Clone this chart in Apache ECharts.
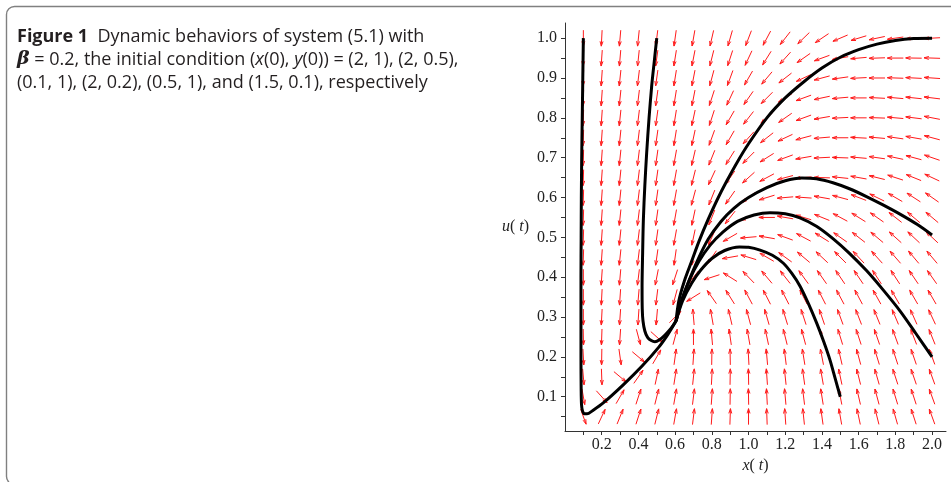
<!DOCTYPE html>
<html>
<head>
<meta charset="utf-8">
<script src="https://cdn.jsdelivr.net/npm/echarts@6/dist/echarts.min.js"></script>
<style>
  html, body { margin: 0; padding: 0; background: #fff; }
  #main { width: 951px; height: 482px; }
</style>
</head>
<body>
<div id="main"></div>
<script>
// direction field grid
var arrowX = [0.1, 0.2, 0.3, 0.4, 0.5, 0.6, 0.7, 0.8, 0.9, 1.0, 1.1, 1.2, 1.3, 1.4, 1.5, 1.6, 1.7, 1.8, 1.9, 2.0];
var arrowY = [1.0, 0.95, 0.9, 0.85, 0.8, 0.75, 0.7, 0.65, 0.6, 0.55, 0.5, 0.45, 0.4, 0.35, 0.3, 0.25, 0.2, 0.15, 0.1, 0.05];
// arrow heading on screen, degrees (0 = right, 90 = up), one row per arrowY
var fieldAngles = [
    [270, 267, 265, 264, 263, 262, 260, 257, 254, 249, 242, 232, 224, 214, 203, 197, 192, 188, 185, 183],
    [268, 266, 265, 264, 262, 261, 259, 256, 252, 245, 238, 228, 215, 200, 190, 185, 182, 180, 179, 178],
    [268, 266, 264, 263, 262, 261, 259, 255, 250, 240, 230, 218, 205, 195, 188, 183, 180, 178, 177, 176],
    [268, 266, 264, 263, 262, 261, 259, 252, 245, 235, 225, 212, 200, 192, 185, 180, 177, 175, 174, 173],
    [268, 266, 264, 263, 262, 261, 258, 252, 240, 232, 222, 215, 200, 190, 183, 180, 178, 175, 173, 169],
    [268, 266, 264, 263, 262, 261, 258, 250, 240, 228, 218, 205, 195, 185, 180, 177, 175, 172, 170, 165],
    [268, 266, 264, 263, 262, 260, 257, 248, 238, 225, 212, 200, 190, 183, 178, 175, 172, 168, 165, 161],
    [268, 266, 264, 263, 262, 260, 256, 245, 235, 222, 208, 195, 185, 178, 174, 170, 166, 162, 158, 155],
    [268, 266, 264, 263, 262, 260, 255, 248, 235, 218, 197, 185, 176, 170, 165, 159, 154, 150, 147, 145],
    [268, 266, 264, 263, 262, 260, 258, 248, 232, 200, 180, 170, 163, 158, 152, 148, 145, 142, 140, 140],
    [268, 266, 264, 263, 262, 260, 258, 245, 210, 185, 170, 160, 152, 148, 145, 142, 140, 138, 137, 137],
    [268, 266, 264, 263, 262, 262, 258, 235, 190, 163, 150, 144, 140, 137, 135, 133, 132, 131, 130, 130],
    [270, 266, 265, 263, 259, 252, 232, 198, 148, 134, 130, 128, 126, 125, 124, 124, 123, 123, 124, 125],
    [270, 267, 266, 265, 263, 255, 212, 125, 122, 118, 117, 117, 117, 117, 118, 118, 119, 120, 120, 120],
    [270, 267, 266, 266, 265, 45, 95, 100, 103, 105, 106, 107, 108, 109, 110, 111, 112, 113, 114, 115],
    [271, 268, 266, 285, 318, 75, 90, 95, 98, 100, 102, 104, 105, 106, 107, 108, 109, 110, 111, 112],
    [273, 269, 278, 320, 60, 82, 86, 89, 91, 93, 95, 97, 99, 101, 103, 105, 107, 108, 109, 110],
    [275, 272, 320, 55, 78, 81, 84, 87, 89, 91, 94, 96, 98, 100, 102, 104, 106, 108, 109, 110],
    [280, 312, 60, 72, 76, 80, 83, 86, 89, 91, 93, 95, 97, 99, 101, 103, 105, 107, 108, 110],
    [290, 65, 68, 72, 76, 80, 83, 86, 88, 90, 92, 94, 96, 98, 100, 102, 104, 106, 108, 110]
];

// solution curves
var trajA = [[0.1, 1.0], [0.097, 0.9], [0.094, 0.8], [0.091, 0.7], [0.089, 0.6], [0.088, 0.5], [0.087, 0.4],
    [0.087, 0.3], [0.087, 0.2], [0.088, 0.12], [0.09, 0.08], [0.095, 0.065], [0.105, 0.057], [0.12, 0.057],
    [0.15, 0.065], [0.21, 0.085], [0.32, 0.131], [0.42, 0.177], [0.51, 0.224], [0.56, 0.256], [0.605, 0.29]];
var trajB = [[0.5, 1.0], [0.486, 0.94], [0.472, 0.878], [0.458, 0.8], [0.445, 0.712], [0.435, 0.63], [0.427, 0.544],
    [0.423, 0.46], [0.42, 0.376], [0.421, 0.32], [0.425, 0.29], [0.435, 0.265], [0.45, 0.249], [0.47, 0.241],
    [0.49, 0.238], [0.515, 0.243], [0.545, 0.255], [0.575, 0.27], [0.605, 0.29]];
var trajC = [[0.605, 0.29], [0.62, 0.34], [0.65, 0.39], [0.69, 0.44], [0.73, 0.49], [0.78, 0.545], [0.83, 0.595],
    [0.88, 0.64], [0.94, 0.69], [1.0, 0.735], [1.1, 0.8], [1.2, 0.85], [1.3, 0.89], [1.4, 0.925], [1.5, 0.952],
    [1.6, 0.971], [1.7, 0.985], [1.8, 0.994], [1.9, 0.999], [2.0, 1.0]];
var trajD = [[0.605, 0.29], [0.63, 0.335], [0.67, 0.385], [0.72, 0.44], [0.78, 0.495], [0.85, 0.54], [0.92, 0.573],
    [1.0, 0.6], [1.1, 0.625], [1.2, 0.642], [1.29, 0.649], [1.37, 0.647], [1.46, 0.637], [1.55, 0.622],
    [1.64, 0.603], [1.73, 0.582], [1.83, 0.557], [1.92, 0.532], [2.0, 0.506]];
var trajE = [[0.605, 0.29], [0.635, 0.34], [0.68, 0.395], [0.73, 0.44], [0.79, 0.48], [0.86, 0.513], [0.94, 0.54],
    [1.03, 0.556], [1.117, 0.562], [1.2, 0.559], [1.28, 0.549], [1.37, 0.528], [1.46, 0.497], [1.55, 0.46],
    [1.644, 0.416], [1.73, 0.37], [1.826, 0.315], [1.91, 0.26], [2.0, 0.2]];
var trajF = [[0.605, 0.29], [0.64, 0.34], [0.69, 0.385], [0.74, 0.418], [0.8, 0.447], [0.87, 0.467], [0.95, 0.476],
    [1.0, 0.475], [1.063, 0.468], [1.13, 0.455], [1.19, 0.435], [1.235, 0.41], [1.28, 0.378], [1.327, 0.333],
    [1.372, 0.284], [1.41, 0.238], [1.444, 0.192], [1.472, 0.146], [1.5, 0.1]];

// ticks and labels
var xTickValues = [0.1, 0.2, 0.3, 0.4, 0.5, 0.6, 0.7, 0.8, 0.9, 1.0, 1.1, 1.2, 1.3, 1.4, 1.5, 1.6, 1.7, 1.8, 1.9, 2.0];
var xTickLabels = [0.2, 0.4, 0.6, 0.8, 1.0, 1.2, 1.4, 1.6, 1.8, 2.0];
var yTickValues = [0.05, 0.1, 0.15, 0.2, 0.25, 0.3, 0.35, 0.4, 0.45, 0.5, 0.55, 0.6, 0.65, 0.7, 0.75, 0.8, 0.85, 0.9, 0.95, 1.0];
var yTickLabels = [0.1, 0.2, 0.3, 0.4, 0.5, 0.6, 0.7, 0.8, 0.9, 1.0];

var fieldData = [];
for (var j = 0; j < arrowY.length; j++) {
    for (var i = 0; i < arrowX.length; i++) {
        fieldData.push([arrowX[i], arrowY[j], fieldAngles[j][i]]);
    }
}

var myChart = echarts.init(document.getElementById('main'));

// one red arrow per grid point
var renderArrow = function (params, api) {
    var c = api.coord([api.value(0), api.value(1)]);
    var a = api.value(2) * Math.PI / 180;
    var half = 8;
    var ux = Math.cos(a), uy = -Math.sin(a);
    var tip = [c[0] + ux * half, c[1] + uy * half];
    var tail = [c[0] - ux * half, c[1] - uy * half];
    var h = 5, s = 0.3;
    var b1 = [tip[0] - h * Math.cos(a - s), tip[1] + h * Math.sin(a - s)];
    var b2 = [tip[0] - h * Math.cos(a + s), tip[1] + h * Math.sin(a + s)];
    var st = { stroke: '#ff1a1a', lineWidth: 1, fill: null };
    return {
        type: 'group',
        children: [
            { type: 'polyline', shape: { points: [tail, tip] }, style: st },
            { type: 'polyline', shape: { points: [b1, tip, b2] }, style: st }
        ]
    };
};

var curve = function (data) {
    return {
        type: 'line',
        data: data,
        showSymbol: false,
        smooth: 0.3,
        lineStyle: { color: '#000', width: 3 },
        z: 5,
        silent: true
    };
};

var serif = 'Liberation Serif';

var option = {
    animation: false,
    backgroundColor: '#fff',
    grid: { left: 565, right: 5, top: 23, bottom: 51 },
    xAxis: {
        type: 'value',
        min: 0,
        max: 2.076,
        name: '{i|x}( {i|t})',
        nameLocation: 'middle',
        nameGap: 23,
        nameTextStyle: {
            fontFamily: serif, fontSize: 16, color: '#222',
            rich: { i: { fontFamily: serif, fontSize: 16, fontStyle: 'italic', color: '#222' } }
        },
        splitLine: { show: false },
        axisLine: { show: true, lineStyle: { color: '#333', width: 1 } },
        axisTick: { show: true, inside: false, length: 4, customValues: xTickValues, lineStyle: { color: '#333' } },
        axisLabel: {
            customValues: xTickLabels,
            margin: 6,
            fontFamily: serif, fontSize: 16, color: '#222',
            formatter: function (v) { return v.toFixed(1); }
        }
    },
    yAxis: {
        type: 'value',
        min: 0.014,
        max: 1.038,
        name: '{i|u}( {i|t})',
        nameLocation: 'middle',
        nameRotate: 0,
        nameGap: 36,
        nameTextStyle: {
            fontFamily: serif, fontSize: 16, color: '#222',
            rich: { i: { fontFamily: serif, fontSize: 16, fontStyle: 'italic', color: '#222' } }
        },
        splitLine: { show: false },
        axisLine: { show: true, lineStyle: { color: '#333', width: 1 } },
        axisTick: { show: true, inside: false, length: 4, customValues: yTickValues, lineStyle: { color: '#333' } },
        axisLabel: {
            customValues: yTickLabels,
            margin: 8,
            fontFamily: serif, fontSize: 16, color: '#222',
            formatter: function (v) { return v.toFixed(1); }
        }
    },
    graphic: [
        {
            type: 'rect',
            left: 4, top: 4,
            shape: { x: 0, y: 0, width: 1200, height: 478, r: 8 },
            style: { fill: null, stroke: '#808080', lineWidth: 1.4 },
            silent: true
        },
        {
            type: 'text',
            left: 17, top: 25,
            style: {
                text: '{b|Figure 1}  Dynamic behaviors of system (5.1) with\n' +
                    '{bi|β} = 0.2, the initial condition ({i|x}(0), {i|y}(0)) = (2, 1), (2, 0.5),\n' +
                    '(0.1, 1), (2, 0.2), (0.5, 1), and (1.5, 0.1), respectively',
                font: '18px "Open Sans"',
                fill: '#231f20',
                lineHeight: 23,
                rich: {
                    b: { fontFamily: 'Open Sans', fontSize: 18, fontWeight: 'bold', fill: '#231f20', lineHeight: 23 },
                    bi: { fontFamily: 'DejaVu Serif', fontSize: 19, fontWeight: 'bold', fontStyle: 'italic', fill: '#231f20', lineHeight: 23 },
                    i: { fontFamily: 'Open Sans', fontSize: 18, fontStyle: 'italic', fill: '#231f20', lineHeight: 23 }
                }
            }
        }
    ],
    series: [
        {
            type: 'custom',
            renderItem: renderArrow,
            data: fieldData,
            encode: { x: 0, y: 1 },
            silent: true,
            z: 2
        },
        curve(trajA),
        curve(trajB),
        curve(trajC),
        curve(trajD),
        curve(trajE),
        curve(trajF)
    ]
};
myChart.setOption(option);
</script>
</body>
</html>
